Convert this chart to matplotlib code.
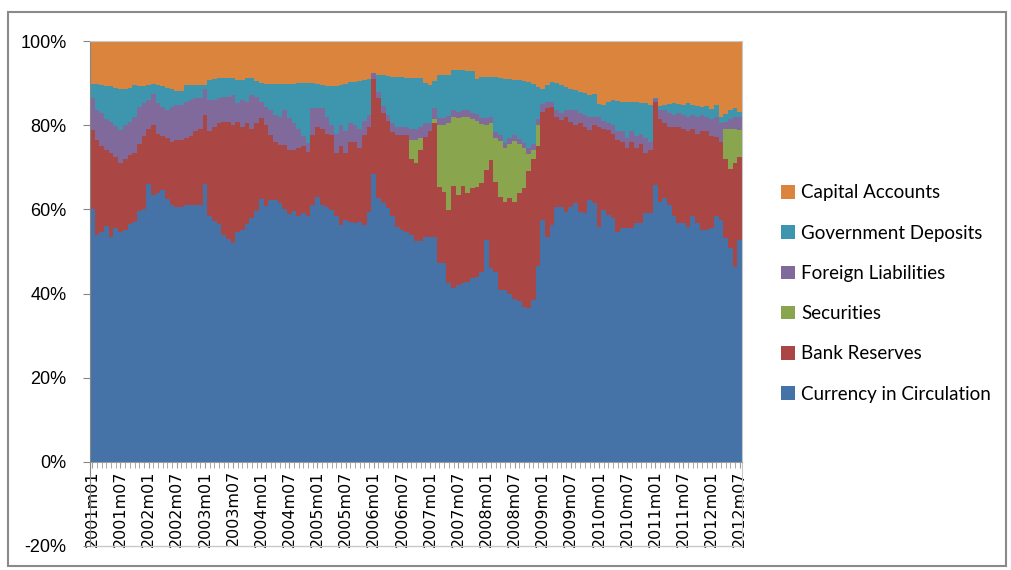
import numpy as np
import matplotlib.pyplot as plt
from matplotlib.patches import Patch, Rectangle

# monthly shares (%), 2001m01 .. 2012m07
currency = [
    60.0, 54.0, 54.5, 56.0, 53.5, 55.5, 54.5, 55.0, 56.5, 57.0, 59.5, 60.0,
    66.0, 63.5, 64.0, 64.5, 62.5, 61.0, 60.5, 60.5, 61.0, 61.0, 61.0, 61.0,
    66.0, 58.5, 57.2, 56.5, 54.0, 53.0, 52.0, 54.5, 55.0, 56.5, 58.0, 59.5,
    62.5, 60.8, 62.2, 62.2, 61.6, 60.0, 59.0, 59.5, 58.5, 59.2, 58.5, 61.0,
    63.0, 61.0, 60.6, 59.8, 58.3, 56.3, 57.5, 57.0, 56.7, 57.0, 56.2, 59.4,
    68.5, 62.6, 61.5, 60.3, 58.3, 55.9, 55.1, 54.7, 53.9, 52.4, 52.4, 53.5,
    53.5, 53.5, 47.2, 47.2, 42.4, 41.2, 42.0, 42.4, 42.8, 43.6, 44.0, 45.2,
    52.7, 46.0, 45.2, 40.8, 40.8, 40.0, 38.8, 38.1, 36.9, 36.5, 38.5, 46.5,
    57.5, 53.5, 56.3, 60.6, 60.6, 59.4, 60.6, 61.4, 59.4, 59.1, 62.2, 61.4,
    55.9, 59.8, 58.7, 57.9, 54.7, 55.5, 55.5, 55.5, 56.7, 56.7, 59.1, 59.1,
    65.8, 61.8, 62.6, 61.0, 58.3, 56.7, 56.7, 55.9, 58.3, 56.7, 55.1, 55.1,
    55.5, 58.3, 57.5, 53.1, 50.7, 46.4, 52.7]
reserves = [
    18.8, 22.5, 20.5, 18.0, 20.0, 17.0, 16.5, 17.0, 16.5, 16.5, 16.0, 17.5,
    13.0, 16.5, 14.0, 13.0, 14.5, 15.0, 16.0, 16.0, 16.0, 16.5, 17.5, 18.0,
    16.4, 20.0, 22.4, 23.9, 26.8, 27.8, 28.0, 26.3, 24.6, 23.9, 21.2, 20.9,
    19.1, 19.2, 15.4, 13.9, 13.7, 15.3, 15.2, 14.7, 16.0, 15.8, 15.2, 16.6,
    16.6, 18.2, 17.4, 17.8, 15.0, 18.7, 16.0, 19.0, 19.3, 17.5, 21.4, 20.2,
    22.5, 23.9, 21.3, 20.7, 20.1, 21.7, 22.5, 22.9, 18.1, 18.6, 21.6, 23.8,
    25.0, 27.0, 18.2, 17.0, 17.4, 24.3, 21.4, 23.2, 21.0, 21.4, 21.2, 21.0,
    16.6, 25.7, 21.4, 22.2, 21.0, 22.6, 23.0, 25.9, 28.1, 32.5, 33.5, 28.5,
    25.7, 30.5, 28.1, 21.4, 20.6, 22.6, 20.2, 18.6, 21.0, 20.5, 16.6, 18.6,
    23.6, 19.2, 20.1, 20.1, 21.8, 20.5, 19.0, 20.5, 17.8, 18.8, 14.4, 14.9,
    19.7, 19.7, 17.9, 18.5, 21.2, 22.8, 22.3, 22.6, 20.7, 21.3, 23.4, 23.4,
    22.0, 19.0, 18.5, 18.9, 18.8, 24.6, 19.8]
securities = [
    0, 0, 0, 0, 0, 0, 0, 0, 0, 0, 0, 0,
    0, 0, 0, 0, 0, 0, 0, 0, 0, 0, 0, 0,
    0, 0, 0, 0, 0, 0, 0, 0, 0, 0, 0, 0,
    0, 0, 0, 0, 0, 0, 0, 0, 0, 0, 0, 0,
    0, 0, 0, 0, 0, 0, 0, 0, 0, 0, 0, 0,
    0, 0, 0, 0, 0, 0, 0, 0, 4.5, 5.5, 3.0, 0,
    0, 1.0, 14.6, 15.8, 20.8, 16.5, 18.4, 16.4, 18.2, 16.5, 15.8, 14.0,
    10.7, 8.8, 10.4, 13.3, 12.7, 12.9, 14.4, 11.5, 9.5, 4.2, 2.2, 5.0,
    0, 0, 0, 0, 0, 0, 0, 0, 0, 0, 0, 0,
    0, 0, 0, 0, 0, 0, 0, 0, 0, 0, 0, 0,
    0, 0, 0, 0, 0, 0, 0, 0, 0, 0, 0, 0,
    0, 0, 0, 7.0, 9.5, 8.0, 6.3]
foreign = [
    7.7, 7.0, 8.0, 7.5, 7.3, 7.3, 7.8, 8.0, 7.8, 8.5, 8.9, 7.7,
    7.0, 7.5, 7.2, 6.9, 6.6, 8.4, 8.3, 8.3, 8.6, 8.5, 7.9, 7.4,
    6.1, 7.5, 6.4, 6.0, 6.0, 6.0, 7.1, 4.4, 6.4, 5.2, 7.9, 6.4,
    4.0, 4.4, 6.0, 6.3, 6.7, 8.3, 7.4, 6.2, 4.5, 2.5, 2.1, 6.4,
    4.4, 4.8, 4.0, 2.4, 4.7, 5.0, 5.0, 4.5, 4.0, 4.5, 3.4, 2.9,
    1.3, 1.5, 1.7, 1.5, 2.1, 1.9, 1.9, 1.9, 2.5, 2.5, 2.5, 3.2,
    1.9, 2.5, 1.6, 1.6, 1.6, 1.6, 1.4, 1.6, 1.6, 1.5, 1.6, 1.6,
    1.6, 1.5, 1.4, 1.3, 1.3, 1.5, 1.4, 1.3, 1.3, 1.3, 1.3, 1.5,
    1.8, 1.5, 1.1, 1.5, 1.8, 1.5, 2.7, 3.5, 2.6, 2.9, 3.2, 2.0,
    2.5, 2.0, 1.7, 2.0, 2.0, 2.5, 2.5, 2.5, 3.0, 2.5, 3.5, 2.0,
    0.7, 2.0, 3.0, 3.5, 3.0, 3.5, 3.5, 3.5, 3.5, 4.0, 4.0, 3.5,
    4.0, 4.7, 4.5, 1.8, 2.5, 3.0, 3.2]
government = [
    3.2, 6.2, 6.6, 7.8, 8.4, 9.1, 9.9, 8.7, 8.0, 7.5, 4.8, 4.0,
    3.6, 2.2, 4.3, 5.0, 5.3, 4.1, 3.3, 3.3, 3.9, 3.5, 3.2, 3.2,
    1.0, 4.7, 5.0, 4.9, 4.5, 4.3, 4.0, 5.5, 4.7, 5.6, 4.1, 3.7,
    4.4, 5.5, 6.3, 7.5, 7.9, 6.3, 8.3, 9.5, 11.1, 12.6, 14.3, 6.1,
    5.9, 5.6, 7.2, 9.2, 11.3, 9.5, 11.3, 9.8, 10.3, 11.5, 9.7, 8.5,
    0.2, 3.9, 7.4, 9.1, 11.0, 12.0, 12.0, 11.8, 12.3, 12.2, 11.7, 9.5,
    9.1, 6.5, 10.4, 10.4, 9.8, 9.4, 9.8, 9.4, 9.2, 9.8, 8.4, 9.7,
    9.9, 9.5, 13.1, 13.6, 15.2, 14.0, 13.2, 14.0, 14.7, 15.7, 14.3, 7.5,
    3.5, 4.0, 4.8, 6.5, 6.5, 5.5, 5.2, 4.8, 5.0, 5.1, 5.2, 5.5,
    3.0, 3.8, 5.0, 6.0, 7.3, 7.1, 8.6, 7.1, 7.9, 7.2, 8.2, 8.8,
    0.3, 1.1, 1.3, 2.0, 2.7, 2.0, 2.3, 3.2, 2.3, 2.6, 1.9, 2.6,
    2.3, 2.8, 1.5, 1.8, 2.1, 2.0, 1.2]
capital = [
    10.3, 10.3, 10.4, 10.7, 10.8, 11.1, 11.3, 11.3, 11.2, 10.5, 10.8, 10.8,
    10.4, 10.3, 10.5, 10.6, 11.1, 11.5, 11.9, 11.9, 10.5, 10.5, 10.4, 10.4,
    10.5, 9.3, 9.0, 8.7, 8.7, 8.9, 8.9, 9.3, 9.3, 8.8, 8.8, 9.5,
    10.0, 10.1, 10.1, 10.1, 10.1, 10.1, 10.1, 10.1, 9.9, 9.9, 9.9, 9.9,
    10.1, 10.4, 10.8, 10.8, 10.7, 10.5, 10.2, 9.7, 9.7, 9.5, 9.3, 9.0,
    7.5, 8.1, 8.1, 8.4, 8.5, 8.5, 8.5, 8.7, 8.7, 8.8, 8.8, 10.0,
    10.5, 9.5, 8.0, 8.0, 8.0, 7.0, 7.0, 7.0, 7.2, 7.2, 9.0, 8.5,
    8.5, 8.5, 8.5, 8.8, 9.0, 9.0, 9.2, 9.2, 9.5, 9.8, 10.2, 11.0,
    11.5, 10.5, 9.7, 10.0, 10.5, 11.0, 11.3, 11.7, 12.0, 12.4, 12.8, 13.5,
    15.0, 15.2, 14.5, 14.0, 14.2, 14.4, 14.4, 14.4, 14.6, 14.8, 14.8, 15.2,
    13.5, 15.4, 15.2, 15.0, 14.8, 15.0, 15.2, 14.8, 15.2, 15.4, 15.6, 15.4,
    16.2, 15.2, 18.0, 17.4, 16.4, 16.0, 16.8]

tick_labels = ['2001m01', '2001m07', '2002m01', '2002m07', '2003m01', '2003m07',
               '2004m01', '2004m07', '2005m01', '2005m07', '2006m01', '2006m07',
               '2007m01', '2007m07', '2008m01', '2008m07', '2009m01', '2009m07',
               '2010m01', '2010m07', '2011m01', '2011m07', '2012m01', '2012m07']

series = [
    ('Currency in Circulation', currency, '#4572A7'),
    ('Bank Reserves', reserves, '#AA4643'),
    ('Securities', securities, '#89A54E'),
    ('Foreign Liabilities', foreign, '#80699B'),
    ('Government Deposits', government, '#3D96AE'),
    ('Capital Accounts', capital, '#DB843D'),
]

W, H = 1012, 570
fig = plt.figure(figsize=(W / 100, H / 100), dpi=100)
fig.patches.append(Rectangle((8 / W, 4 / H), 998 / W, 554 / H, transform=fig.transFigure,
                             fill=False, edgecolor='#8a8a8a', lw=1.5))
ax = fig.add_axes([90 / W, 24 / H, 652 / W, 505 / H])

# month bars drawn as one stepped band per series (no seams between bars)
x = np.arange(len(currency))
edges = np.arange(len(x) + 1) - 0.5
bottom = np.zeros(len(x))
for name, vals, col in series:
    vals = np.array(vals, dtype=float)
    ax.stairs(bottom + vals, edges, baseline=bottom, fill=True, color=col, lw=0)
    bottom += vals

ax.set_xlim(-0.5, len(x) - 0.5)
ax.set_ylim(-20, 100)
ax.spines['bottom'].set_position(('data', 0))
ax.spines['bottom'].set_color('#9a9a9a')
ax.spines['left'].set_color('#868686')
ax.spines['top'].set_color('#c8c8c8')
ax.spines['right'].set_color('#c8c8c8')
ax.axhline(-20, color='#c8c8c8', lw=1.0, clip_on=False)

ax.set_yticks(range(-20, 101, 20))
ax.set_yticklabels([f'{v}%' for v in range(-20, 101, 20)],
                   family=['Liberation Sans Narrow', 'Liberation Sans'], fontsize=13)
ax.set_xticks(x[::6])
ax.set_xticks(x, minor=True)
ax.set_xticklabels(tick_labels, rotation=90, fontsize=11.5, family='DejaVu Sans')
ax.tick_params(axis='x', which='both', direction='out', length=4, color='#9a9a9a', pad=2)
ax.tick_params(axis='y', direction='out', length=5, color='#868686', pad=12)

handles = [Patch(facecolor=col, edgecolor='none', label=name) for name, _, col in series[::-1]]
leg = fig.legend(handles=handles, loc='upper left', bbox_to_anchor=(772 / W, 1 - 175 / H),
                 frameon=False, fontsize=13.5, labelspacing=1.24, handlelength=0.72,
                 handleheight=0.72, handletextpad=0.35, borderpad=0)
for t in leg.get_texts():
    t.set_family(['Lato', 'DejaVu Sans'])

fig.savefig('out.png', dpi=100)
